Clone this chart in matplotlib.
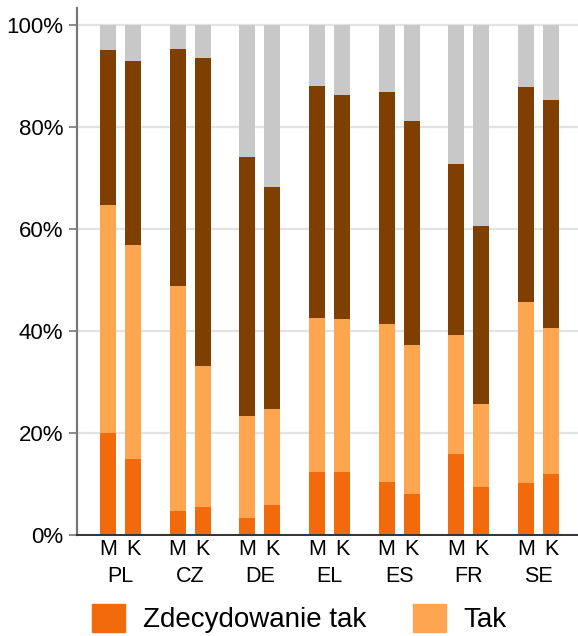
import numpy as np
import matplotlib.pyplot as plt
from matplotlib.ticker import PercentFormatter
from matplotlib.patches import Patch

plt.rcParams['font.family'] = ['Liberation Sans', 'DejaVu Sans']

countries = ['PL', 'CZ', 'DE', 'EL', 'ES', 'FR', 'SE']
sexes = ['M', 'K']

# shares in %, order per country: M, K
zdecydowanie_tak = [20.0, 14.9, 4.8, 5.4, 3.3, 5.8, 12.4, 12.4, 10.3, 8.1, 15.8, 9.5, 10.1, 12.0]
tak = [44.7, 41.9, 44.0, 27.7, 20.1, 18.9, 30.1, 29.9, 31.0, 29.2, 23.5, 16.1, 35.5, 28.5]
nie = [30.3, 36.1, 46.4, 60.4, 50.6, 43.6, 45.5, 43.9, 45.6, 43.9, 33.5, 34.9, 42.2, 44.7]
reszta = [5.0, 7.1, 4.8, 6.5, 26.0, 31.7, 12.0, 13.8, 13.1, 18.8, 27.2, 39.5, 12.2, 14.8]

labels = ['Zdecydowanie tak', 'Tak']
colors = ['#F26A0C', '#FDA64F', '#7F3F00', '#C8C8C8']

fig = plt.figure(figsize=(5.78, 6.36), dpi=100)
ax = fig.add_axes([77 / 578, 1 - 535 / 636, 501 / 578, 527 / 636])

groups = np.arange(len(countries))
offset = 0.179
xpos = np.ravel(np.column_stack([groups - offset, groups + offset]))

bottom = np.zeros(len(xpos))
for vals, c in zip([zdecydowanie_tak, tak, nie, reszta], colors):
    ax.bar(xpos, vals, width=0.23, bottom=bottom, color=c, zorder=2)
    bottom += np.array(vals)

ax.set_xlim(-0.624, 6.567)
ax.set_ylim(0, 103.3)
ax.set_yticks([0, 20, 40, 60, 80, 100])
ax.yaxis.set_major_formatter(PercentFormatter(decimals=0))
ax.grid(axis='y', color='#E3E3E3', linewidth=1.6, zorder=0)

ax.set_xticks(xpos)
ax.set_xticklabels(sexes * len(countries))
ax.set_xticks(groups, minor=True)
ax.set_xticklabels(countries, minor=True)
ax.tick_params(axis='x', which='major', length=0, pad=3, labelsize=15.5)
ax.tick_params(axis='x', which='minor', length=0, pad=22, labelsize=15.5)
ax.tick_params(axis='y', length=6, width=1.2, color='#777777', pad=4, labelsize=16)

for s in ['top', 'right']:
    ax.spines[s].set_visible(False)
ax.spines['left'].set_color('#777777')
ax.spines['left'].set_linewidth(1.6)
ax.spines['bottom'].set_color('#333333')
ax.spines['bottom'].set_linewidth(1.4)
ax.spines['bottom'].set_zorder(3)

handles = [Patch(color=c) for c in colors[:2]]
fig.legend(handles, labels, loc='upper left', bbox_to_anchor=(92 / 578, 1 - 604 / 636),
           ncol=2, frameon=False, fontsize=20, handlelength=1.18, handleheight=1.18,
           handletextpad=0.64, columnspacing=1.7, borderpad=0, borderaxespad=0)

fig.savefig('out.png', dpi=100)
